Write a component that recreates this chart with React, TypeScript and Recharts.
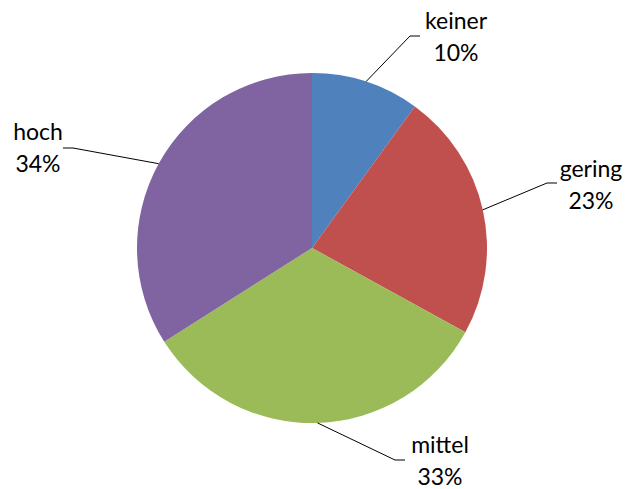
import { PieChart, Pie, Cell } from 'recharts';

const categories = ['keiner', 'gering', 'mittel', 'hoch'];
const shares = [10, 23, 33, 34];
const sliceColors = ['#4F81BD', '#C0504D', '#9BBB59', '#8064A2'];

// where each label sits: text centre x, first baseline y, end of the leader line
const labelSpots = [
  { tx: 456, ty: 29, ex: 420, ey: 36 },
  { tx: 591, ty: 177, ex: 557, ey: 183 },
  { tx: 440, ty: 453, ex: 405, ey: 460 },
  { tx: 38, ty: 140, ex: 63, ey: 148 },
];

const data = categories.map((name, i) => ({ name, value: shares[i] }));
const RAD = Math.PI / 180;

function renderLabel(props: any) {
  const { cx, cy, midAngle, outerRadius, index, value } = props;
  const spot = labelSpots[index];
  const sx = cx + outerRadius * Math.cos(-midAngle * RAD);
  const sy = cy + outerRadius * Math.sin(-midAngle * RAD);
  const dir = spot.ex > sx ? 1 : -1;
  const kx = spot.ex - dir * 10;
  return (
    <g>
      <polyline
        points={`${sx},${sy} ${kx},${spot.ey} ${spot.ex},${spot.ey}`}
        fill="none"
        stroke="#000"
        strokeWidth={1}
      />
      <text x={spot.tx} y={spot.ty} textAnchor="middle" fill="#000" fontSize={23} fontFamily="Lato, sans-serif">
        {categories[index]}
      </text>
      <text x={spot.tx} y={spot.ty + 32} textAnchor="middle" fill="#000" fontSize={23} fontFamily="Lato, sans-serif">
        {`${value}%`}
      </text>
    </g>
  );
}

export default function App() {
  return (
    <div style={{ position: 'absolute', left: 0, top: 0, width: 625, height: 489, background: '#fff' }}>
      <PieChart width={625} height={489} margin={{ top: 0, right: 0, bottom: 0, left: 0 }}>
        <Pie
          data={data}
          dataKey="value"
          nameKey="name"
          cx={312}
          cy={248}
          outerRadius={175}
          startAngle={90}
          endAngle={-270}
          stroke="none"
          label={renderLabel}
          labelLine={false}
          isAnimationActive={false}
        >
          {data.map((d, i) => (
            <Cell key={d.name} fill={sliceColors[i]} />
          ))}
        </Pie>
      </PieChart>
    </div>
  );
}
